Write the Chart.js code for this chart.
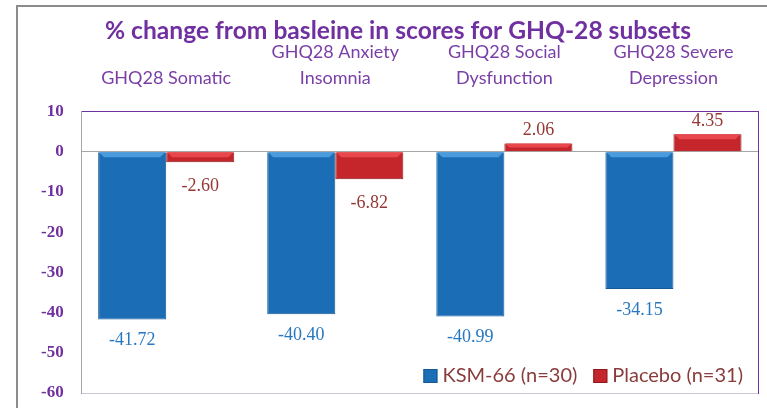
<!DOCTYPE html>
<html>
<head>
<meta charset="utf-8">
<script src="https://cdn.jsdelivr.net/npm/chart.js@4.4.1/dist/chart.umd.min.js"></script>
<style>
  html, body { margin: 0; padding: 0; background: #ffffff; }
  #wrap { width: 767px; height: 408px; }
</style>
</head>
<body>
<div id="wrap"><canvas id="ghqChart" width="767" height="408"></canvas></div>
<script>
const ctxGhq = document.getElementById('ghqChart');

const categorias = [
  ['GHQ28 Somatic'],
  ['GHQ28 Anxiety', 'Insomnia'],
  ['GHQ28 Social', 'Dysfunction'],
  ['GHQ28 Severe', 'Depression']
];
const ksm66 = [-41.72, -40.40, -40.99, -34.15];
const placebo = [-2.60, -6.82, 2.06, 4.35];
const ticksY = [10, 0, -10, -20, -30, -40, -50, -60];

const morado = '#7030a0';

// marco gris exterior
const marcoExterior = {
  id: 'marcoExterior',
  beforeDraw(chart) {
    const c = chart.ctx;
    c.save();
    c.strokeStyle = '#8c8c8c';
    c.lineWidth = 2;
    c.strokeRect(17, 6, 900, 600);
    c.restore();
  }
};

// bisel claro en el borde superior de cada barra (efecto 3D del original)
const biselBarras = {
  id: 'biselBarras',
  afterDatasetsDraw(chart) {
    const c = chart.ctx;
    c.save();
    chart.data.datasets.forEach((ds, i) => {
      const meta = chart.getDatasetMeta(i);
      c.fillStyle = ds.biselColor;
      meta.data.forEach(bar => {
        const izq = bar.x - bar.width / 2;
        const der = bar.x + bar.width / 2;
        const arriba = Math.min(bar.y, bar.base);
        const alto = Math.min(5, Math.abs(bar.y - bar.base) / 2);
        c.beginPath();
        c.moveTo(izq + 1, arriba);
        c.lineTo(der - 1, arriba);
        c.lineTo(der - 1 - alto, arriba + alto);
        c.lineTo(izq + 1 + alto, arriba + alto);
        c.closePath();
        c.fill();
      });
    });
    c.restore();
  }
};

// etiquetas de valor sobre / bajo cada barra
const etiquetasValor = {
  id: 'etiquetasValor',
  afterDatasetsDraw(chart) {
    const c = chart.ctx;
    c.save();
    c.font = '18px "Liberation Serif"';
    c.textAlign = 'center';
    c.textBaseline = 'middle';
    chart.data.datasets.forEach((ds, i) => {
      const meta = chart.getDatasetMeta(i);
      c.fillStyle = ds.etiquetaColor;
      meta.data.forEach((bar, j) => {
        const v = ds.data[j];
        let y;
        if (v >= 0) {
          y = bar.y - 13;
        } else {
          y = bar.y + (i === 0 ? 21 : 24);
        }
        c.fillText(v.toFixed(2), bar.x, y);
      });
    });
    c.restore();
  }
};

// leyenda abajo a la derecha, dentro del area
const leyendaAbajo = {
  id: 'leyendaAbajo',
  afterDraw(chart) {
    const c = chart.ctx;
    const area = chart.chartArea;
    c.save();
    c.font = '20px Lato';
    c.textBaseline = 'middle';
    const y = area.bottom - 17;
    let x = area.right - 15;
    const items = chart.data.datasets.slice().reverse();
    items.forEach(ds => {
      const w = c.measureText(ds.label).width;
      x -= w;
      c.fillStyle = '#8a3c3c';
      c.fillText(ds.label, x, y);
      x -= 19;
      c.fillStyle = ds.backgroundColor;
      c.fillRect(x, y - 7, 14, 14);
      c.strokeStyle = ds.borderColor;
      c.lineWidth = 1;
      c.strokeRect(x + 0.5, y - 6.5, 13, 13);
      x -= 16;
    });
    c.restore();
  }
};

const graficoGhq = new Chart(ctxGhq, {
  type: 'bar',
  data: {
    labels: categorias,
    datasets: [{
      label: 'KSM-66 (n=30)',
      data: ksm66,
      backgroundColor: '#1b6db5',
      borderColor: '#155a95',
      borderWidth: 1,
      biselColor: '#4a9ade',
      etiquetaColor: '#2878c0'
    }, {
      label: 'Placebo (n=31)',
      data: placebo,
      backgroundColor: '#c4262c',
      borderColor: '#8e1a1e',
      borderWidth: 1,
      biselColor: '#e8474c',
      etiquetaColor: '#953735'
    }]
  },
  options: {
    responsive: false,
    animation: false,
    categoryPercentage: 0.805,
    barPercentage: 1,
    layout: {
      padding: { left: 38, right: 9, top: 0, bottom: 15 }
    },
    plugins: {
      legend: { display: false },
      tooltip: { enabled: false },
      title: {
        display: true,
        text: '% change from basleine in scores for GHQ-28 subsets',
        color: morado,
        font: { family: 'Lato', size: 24.6, weight: 'bold', lineHeight: 1 },
        padding: { top: 19, bottom: -24 }
      }
    },
    scales: {
      x: {
        position: 'top',
        grid: { display: false, drawTicks: false },
        border: { color: morado, width: 1 },
        ticks: {
          color: '#7a3fa6',
          font: { family: 'Lato', size: 18, lineHeight: '26px' },
          padding: 20,
          maxRotation: 0
        }
      },
      x2: {
        position: 'bottom',
        grid: { display: false, drawTicks: false },
        border: { color: '#cfc6dd', width: 1 },
        ticks: { display: false }
      },
      y: {
        min: -60,
        max: 10,
        afterBuildTicks(scale) {
          scale.ticks = ticksY.map(v => ({ value: v }));
        },
        grid: {
          drawTicks: true,
          tickLength: 15,
          tickColor: 'rgba(0,0,0,0)',
          color: c => (c.tick && c.tick.value === 0 ? '#a6a6a6' : 'rgba(0,0,0,0)')
        },
        border: { color: '#a6a6a6', width: 1 },
        ticks: {
          color: morado,
          font: { family: 'Liberation Serif', size: 17, weight: 'bold' },
          padding: 3
        }
      },
      y2: {
        position: 'right',
        min: -60,
        max: 10,
        grid: { display: false, drawTicks: false },
        border: { color: morado, width: 1 },
        ticks: { display: false }
      }
    }
  },
  plugins: [marcoExterior, biselBarras, etiquetasValor, leyendaAbajo]
});
</script>
</body>
</html>
